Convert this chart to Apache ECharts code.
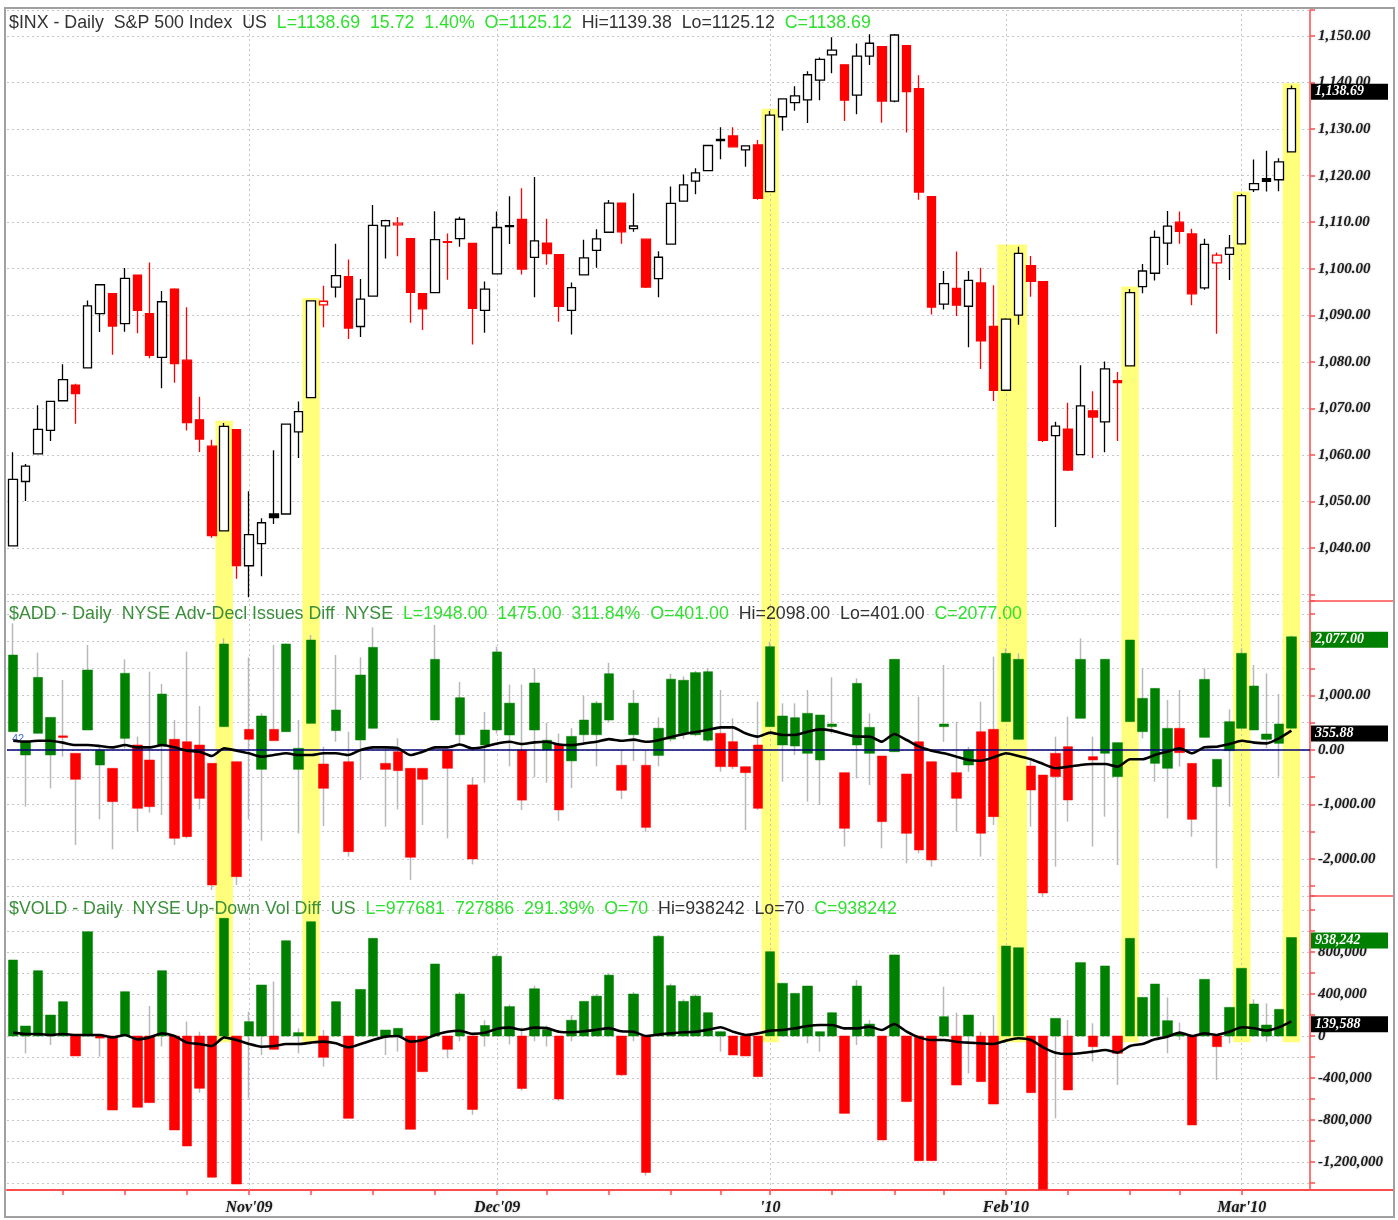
<!DOCTYPE html>
<html>
<head>
<meta charset="utf-8">
<title>$INX / $ADD / $VOLD daily</title>
<script src="https://cdn.jsdelivr.net/npm/echarts@6/dist/echarts.min.js"></script>
<style>
  html, body { margin: 0; padding: 0; background: #fff; }
  #chart { width: 1398px; height: 1220px; }
</style>
</head>
<body>
<div id="chart"></div>
<script>
// trading days shown on the chart
const dates = [
  '2009-10-06','2009-10-07','2009-10-08','2009-10-09','2009-10-12','2009-10-13','2009-10-14','2009-10-15','2009-10-16',
  '2009-10-19','2009-10-20','2009-10-21','2009-10-22','2009-10-23','2009-10-26','2009-10-27','2009-10-28','2009-10-29','2009-10-30',
  '2009-11-02','2009-11-03','2009-11-04','2009-11-05','2009-11-06','2009-11-09','2009-11-10','2009-11-11','2009-11-12','2009-11-13',
  '2009-11-16','2009-11-17','2009-11-18','2009-11-19','2009-11-20','2009-11-23','2009-11-24','2009-11-25','2009-11-27','2009-11-30',
  '2009-12-01','2009-12-02','2009-12-03','2009-12-04','2009-12-07','2009-12-08','2009-12-09','2009-12-10','2009-12-11',
  '2009-12-14','2009-12-15','2009-12-16','2009-12-17','2009-12-18','2009-12-21','2009-12-22','2009-12-23','2009-12-24',
  '2009-12-28','2009-12-29','2009-12-30','2009-12-31',
  '2010-01-04','2010-01-05','2010-01-06','2010-01-07','2010-01-08','2010-01-11','2010-01-12','2010-01-13','2010-01-14','2010-01-15',
  '2010-01-19','2010-01-20','2010-01-21','2010-01-22','2010-01-25','2010-01-26','2010-01-27','2010-01-28','2010-01-29',
  '2010-02-01','2010-02-02','2010-02-03','2010-02-04','2010-02-05','2010-02-08','2010-02-09','2010-02-10','2010-02-11','2010-02-12',
  '2010-02-16','2010-02-17','2010-02-18','2010-02-19','2010-02-22','2010-02-23','2010-02-24','2010-02-25','2010-02-26',
  '2010-03-01','2010-03-02','2010-03-03','2010-03-04','2010-03-05'
];

// S&P 500, [open, high, low, close]
const spx = [
  [1040.46,1060.55,1040.46,1054.72],[1054.28,1058.02,1050.10,1057.58],[1060.23,1070.67,1060.23,1065.48],[1065.28,1071.51,1063.00,1071.49],
  [1071.63,1079.46,1071.63,1076.19],[1074.96,1075.30,1066.71,1073.19],[1078.68,1093.17,1078.68,1092.02],[1090.36,1096.56,1086.41,1096.56],
  [1094.67,1094.67,1081.53,1087.68],[1088.22,1100.17,1086.48,1097.91],[1098.64,1098.64,1086.16,1091.06],[1090.36,1101.36,1080.77,1081.40],
  [1080.96,1095.21,1074.31,1092.91],[1095.62,1095.83,1075.49,1079.60],[1080.36,1091.75,1065.23,1066.95],[1067.54,1072.48,1060.62,1063.41],
  [1061.86,1063.26,1042.19,1042.63],[1043.69,1066.83,1043.69,1066.11],[1065.41,1065.41,1033.38,1036.19],[1036.18,1052.18,1029.38,1042.88],
  [1040.92,1046.36,1033.94,1045.41],[1047.30,1061.00,1045.15,1046.50],[1047.30,1066.65,1047.30,1066.63],[1064.95,1071.48,1059.32,1069.30],
  [1072.31,1093.19,1072.31,1093.08],[1092.22,1096.36,1087.40,1093.01],[1096.04,1105.37,1093.81,1098.51],[1098.31,1101.97,1084.90,1087.24],
  [1087.59,1097.79,1085.33,1093.48],[1094.13,1113.69,1094.13,1109.30],[1109.22,1110.52,1102.19,1110.32],[1109.44,1111.10,1102.70,1109.80],
  [1106.44,1106.44,1088.40,1094.90],[1094.66,1094.66,1086.81,1091.38],[1094.86,1112.38,1094.86,1106.24],[1105.83,1107.56,1097.63,1105.65],
  [1106.49,1111.18,1104.75,1110.63],[1105.47,1105.47,1083.74,1091.49],[1091.07,1097.24,1086.25,1095.63],[1098.89,1112.28,1098.89,1108.86],
  [1109.03,1115.58,1105.29,1109.24],[1110.59,1117.28,1098.74,1099.92],[1102.43,1119.73,1093.89,1105.98],[1105.52,1110.72,1100.83,1103.25],
  [1103.04,1103.04,1088.61,1091.94],[1091.07,1097.04,1085.89,1095.95],[1098.69,1106.25,1098.69,1102.35],[1103.96,1108.50,1100.19,1106.41],
  [1107.84,1114.76,1107.84,1114.11],[1114.11,1114.11,1105.35,1107.93],[1108.61,1116.21,1107.96,1109.18],[1106.36,1106.36,1095.88,1096.08],
  [1097.86,1103.74,1093.88,1102.47],[1105.31,1117.68,1105.31,1114.05],[1114.51,1120.27,1114.51,1118.02],[1118.84,1121.58,1116.00,1120.59],
  [1121.08,1126.48,1121.08,1126.48],[1127.53,1130.38,1123.51,1127.78],[1128.55,1130.38,1126.08,1126.20],[1125.53,1126.42,1121.94,1126.42],
  [1126.60,1127.64,1114.81,1115.10],[1116.56,1133.87,1116.56,1132.99],[1132.66,1136.63,1129.66,1136.52],[1135.71,1139.19,1133.95,1137.14],
  [1136.27,1142.46,1131.32,1141.69],[1140.52,1145.39,1136.22,1144.98],[1145.96,1149.74,1142.02,1146.98],[1143.81,1143.81,1131.77,1136.22],
  [1137.31,1148.40,1133.18,1145.68],[1145.68,1150.41,1143.80,1148.46],[1147.72,1147.77,1131.39,1136.03],[1136.03,1150.45,1135.77,1150.23],
  [1147.95,1147.95,1129.25,1138.04],[1138.68,1141.58,1114.84,1116.48],[1115.49,1115.49,1090.18,1091.76],[1092.40,1099.51,1091.26,1096.78],
  [1095.80,1103.69,1089.86,1092.17],[1091.94,1099.51,1083.11,1097.50],[1096.93,1100.22,1078.46,1084.53],[1087.61,1096.45,1071.59,1073.87],
  [1073.89,1089.38,1073.89,1089.19],[1090.05,1104.73,1087.96,1103.32],[1100.67,1102.72,1093.97,1097.28],[1097.25,1097.25,1062.78,1063.11],
  [1064.12,1067.13,1044.50,1066.19],[1065.51,1071.20,1056.51,1056.74],[1060.06,1079.28,1060.06,1070.52],[1069.47,1073.67,1059.34,1068.13],
  [1067.10,1080.04,1060.59,1078.47],[1075.95,1077.81,1062.97,1075.51],[1079.13,1095.67,1079.13,1094.87],[1096.14,1101.03,1094.72,1099.51],
  [1099.03,1108.24,1097.48,1106.75],[1105.49,1112.42,1100.80,1109.17],[1110.00,1112.29,1105.38,1108.01],[1107.49,1108.58,1092.18,1094.60],
  [1095.89,1106.42,1095.50,1105.24],[1101.24,1103.50,1086.02,1102.94],[1103.10,1107.24,1097.56,1104.49],[1105.36,1116.11,1105.36,1115.71],
  [1117.01,1123.46,1116.51,1118.31],[1119.36,1125.36,1116.58,1118.79],[1119.12,1123.73,1116.66,1122.97],[1125.12,1139.38,1125.12,1138.69]
];

// NYSE advance-decline issues, [open, high, low, close]
const add = [
  [336,2324,336,1743],[-92,153,-1040,153],[306,1786,306,1333],[-92,599,-703,599],[260,1284,-122,230],[-61,-61,-1743,-538],
  [367,1927,367,1468],[-275,61,-1272,0],[-336,-336,-1823,-948],[214,1664,31,1407],[92,245,-1498,-1070],[-183,1437,-1150,-1040],
  [73,1211,-1193,1027],[196,550,-1743,-1621],[153,1804,-1621,-1590],[92,807,-1089,-887],[-245,-245,-2569,-2477],[428,2049,428,1945],
  [-214,-214,-2477,-2324],[379,1700,-1272,196],[-355,673,-1664,624],[379,1927,171,171],[336,1957,336,1945],[-355,550,-1529,31],
  [489,2110,489,2018],[-257,61,-1394,-703],[355,1743,153,734],[-214,336,-1957,-1865],[183,1700,-550,1376],[398,2250,398,1884],
  [-245,61,-1407,-355],[-31,214,-1089,-379],[-336,-336,-2385,-1970],[-336,-336,-1376,-538],[550,2294,550,1664],[0,0,-1621,-336],
  [280,1250,100,960],[-640,-500,-2100,-2000],[92,700,-600,367],[367,1900,300,1800],[275,1200,-300,860],[0,1200,-1100,-920],
  [367,1500,-500,1230],[0,500,-600,180],[100,300,-1300,-1100],[-200,400,-700,250],[280,1000,100,550],[280,900,-300,860],
  [550,1600,500,1400],[-280,0,-900,-740],[280,1100,-200,860],[-280,0,-1500,-1420],[-100,600,-300,400],[200,1400,150,1300],
  [300,1350,200,1280],[280,1450,250,1420],
  [180,1500,150,1437],[306,1101,-398,-306],[153,581,-350,-306],[-306,-306,-1468,-416],[92,887,-1100,-1070],[428,1988,428,1896],
  [92,856,-581,624],[73,856,-92,593],[-61,1101,-948,673],[-183,642,-1009,642],[428,1333,300,477],[-416,-416,-1774,-1437],
  [92,1315,-520,1223],[-61,673,-642,416],[-110,-110,-1804,-1315],[-31,1664,-31,1664],[-440,-440,-2079,-1529],[153,978,-1896,-1835],
  [-214,-214,-2140,-2018],[428,1560,150,477],[-416,520,-1498,-887],[-275,61,-400,0],[336,887,-1957,-1529],[379,1712,-1376,-1223],
  [520,1865,520,1774],[196,1774,196,1664],[-294,-200,-1407,-734],[-459,-459,-2700,-2624],[-61,245,-2140,-489],[61,612,-1315,-917],
  [581,2049,581,1664],[-122,245,-1774,-183],[-61,1664,-1223,1664],[-489,135,-2110,135],[520,2018,520,2018],[336,1498,214,948],
  [-245,1131,-581,1131],[-336,917,-1254,398],[398,1101,-306,-49],[-245,-245,-1590,-1272],[232,1498,232,1297],[-673,-171,-2171,-171],
  [-12,746,-1040,520],[398,1865,398,1774],[367,1560,367,1174],[196,1407,31,294],[122,1027,-489,477],[401,2098,401,2077]
];

const addMA = [
  171,153,171,171,135,92,92,73,49,92,49,49,92,49,-12,-31,-110,31,-12,-61,-122,-92,-61,-92,-92,-61,-61,-92,0,49,49,31,-92,-31,49,49,
  100,30,60,120,150,110,140,150,100,90,120,150,200,170,190,150,180,240,290,330,
  370,416,416,306,245,318,275,275,336,379,355,294,245,245,153,294,183,61,-12,-61,-122,-183,-196,-135,-61,-110,-171,-257,-336,-306,
  -275,-257,-257,-306,-171,-171,-92,-31,31,-61,49,61,110,171,135,122,214,355.88
];

// NYSE up-down volume difference, [open, high, low, close]
const vold = [
  [0,724000,0,724000],[0,95000,-165000,95000],[0,622000,0,622000],[0,200000,-86000,200000],[0,327000,0,327000],[0,0,-190000,-190000],
  [0,994000,0,994000],[0,10000,-197000,-20000],[0,0,-705000,-705000],[0,422000,0,422000],[0,0,-679000,-679000],[0,286000,-635000,-635000],
  [0,622000,-100000,622000],[0,0,-895000,-895000],[0,137000,-1048000,-1048000],[0,41000,-540000,-498000],[0,0,-1346000,-1346000],
  [0,1121000,0,1121000],[0,0,-1410000,-1410000],[0,232000,-594000,137000],[0,486000,-181000,486000],[0,518000,-127000,-127000],
  [0,908000,0,908000],[0,73000,-165000,32000],[0,1089000,0,1089000],[0,57000,-292000,-203000],[0,327000,0,327000],[0,0,-784000,-784000],
  [0,444000,0,444000],[0,930000,0,930000],[0,57000,-181000,57000],[0,73000,-149000,73000],[0,0,-889000,-889000],[0,0,-340000,-340000],
  [0,686000,0,686000],[0,0,-213000,-127000],
  [0,420000,-50000,400000],[0,0,-750000,-700000],[0,150000,-100000,100000],[0,780000,0,760000],[0,300000,-80000,280000],
  [0,80000,-520000,-500000],[0,480000,-50000,450000],[0,100000,-100000,60000],[0,0,-620000,-600000],[0,200000,-50000,150000],
  [0,330000,0,330000],[0,400000,0,380000],[0,600000,0,580000],[0,0,-380000,-370000],[0,420000,-50000,400000],[0,0,-1330000,-1300000],
  [0,960000,0,950000],[0,500000,0,480000],[0,350000,0,330000],[0,400000,0,380000],
  [0,222000,0,222000],[0,41000,-149000,41000],[0,0,-181000,-181000],[0,0,-190000,-190000],[0,0,-387000,-387000],[0,803000,0,803000],
  [0,502000,0,502000],[0,406000,0,406000],[0,476000,-70000,476000],[0,41000,-149000,41000],[0,222000,0,222000],[0,0,-737000,-737000],
  [0,533000,-86000,476000],[0,152000,0,114000],[0,0,-990000,-990000],[0,772000,0,772000],[0,0,-625000,-625000],[0,0,-1187000,-1187000],
  [0,0,-1187000,-1187000],[0,470000,0,184000],[0,222000,-467000,-467000],[0,200000,-356000,200000],[0,41000,-435000,-435000],
  [0,200000,-648000,-648000],[0,857000,0,857000],[0,841000,0,841000],[0,0,-540000,-540000],[0,0,-1460000,-1460000],
  [0,168000,-784000,168000],[0,152000,-514000,-514000],[0,699000,0,699000],[0,121000,-244000,-102000],[0,667000,0,667000],
  [0,0,-467000,-165000],[0,930000,0,930000],[0,368000,0,368000],[0,495000,0,495000],[0,368000,-165000,146000],[0,127000,-38000,20000],
  [0,0,-848000,-848000],[0,540000,0,540000],[0,0,-419000,-102000],[0,273000,-70000,273000],[0,645000,0,645000],[0,349000,0,305000],
  [0,311000,-54000,105000],[0,254000,0,254000],[70,938242,70,938242]
];

const voldMA = [
  32000,19000,19000,10000,19000,10000,10000,10000,-13000,10000,-32000,-13000,25000,0,-63000,-76000,-95000,-13000,-38000,-76000,
  -102000,-95000,-76000,-76000,-63000,-54000,-70000,-108000,-76000,-38000,-6000,0,-54000,-38000,10000,41000,
  50000,20000,30000,70000,80000,60000,80000,75000,40000,35000,45000,60000,75000,45000,40000,0,15000,25000,35000,40000,
  60000,83000,41000,10000,25000,51000,57000,73000,95000,105000,105000,73000,73000,89000,57000,114000,41000,-13000,-38000,-38000,
  -54000,-63000,-70000,-76000,-44000,-22000,-38000,-108000,-159000,-171000,-165000,-149000,-133000,-159000,-95000,-76000,-32000,
  -6000,32000,0,25000,10000,41000,83000,73000,51000,83000,139588
];

// yellow highlight columns [first day, last day]
const highlights = [
  ['2009-10-29','2009-10-29'],['2009-11-09','2009-11-09'],['2010-01-04','2010-01-04'],['2010-02-01','2010-02-02'],
  ['2010-02-16','2010-02-16'],['2010-03-01','2010-03-01'],['2010-03-05','2010-03-05']
];

const cats = dates.concat(['']);
const monNames = ['Jan','Feb','Mar','Apr','May','Jun','Jul','Aug','Sep','Oct','Nov','Dec'];
const day = s => new Date(s + 'T00:00:00Z');

// month starts get labels; week starts get ticks (a month start replaces its week's tick)
const monthStarts = [];
const weekStarts = [];
for (let i = 1; i < dates.length; i++) {
  const a = day(dates[i - 1]), b = day(dates[i]);
  const newMonth = a.getUTCMonth() !== b.getUTCMonth();
  const newWeek = b.getUTCDay() < a.getUTCDay();
  if (newMonth) {
    monthStarts.push(i);
    if (!newWeek && weekStarts.length) weekStarts.pop();
    weekStarts.push(i);
  } else if (newWeek) {
    weekStarts.push(i);
  }
}

const fmt2 = v => v.toLocaleString('en-US', { minimumFractionDigits: 2, maximumFractionDigits: 2 });
const fmt0 = v => v.toLocaleString('en-US');

const RED = '#ff4b4b';
const GREEN = '#008000';
const CRED = '#ff0000';
const YELLOW = '#ffff7c';
const GRID_DOT = '#c4c4c4';
const axisFont = { fontFamily: 'Liberation Serif', fontStyle: 'italic', fontWeight: 'bold', fontSize: 15, color: '#1a1a1a',
  textShadowColor: 'rgba(0,0,0,0.35)', textShadowBlur: 2 };

// axis ranges matching the panel heights
const spxRange = [1028.6, 1155.6];
const addRange = [-2679, 2734];
const voldRange = [-1466700, 1333360];

const idx = d => dates.indexOf(d);

// candles: S&P hollow when up, red when close below previous close
const spxData = spx.map((r, i) => {
  const [o, h, l, c] = r;
  const prevC = i > 0 ? spx[i - 1][3] : o;
  const red = c < prevC;
  const edge = red ? CRED : '#000';
  const fill = c >= o ? '#fff' : edge;
  return { value: [o, c, l, h], itemStyle: { color: fill, color0: fill, borderColor: edge, borderColor0: edge } };
});

const wick = rows => rows.map(r => [r[0], r[3], r[2], r[1]]);
const body = rows => rows.map(r => [r[0], r[3], Math.min(r[0], r[3]), Math.max(r[0], r[3])]);

function bandData(topFn, bottom) {
  return highlights.map(h => {
    const s = idx(h[0]), e = idx(h[1]);
    return [s, e, topFn(s, e), bottom];
  });
}

const monthLines = monthStarts.map(i => ({ xAxis: i }));

function bandSeries(gi, data) {
  return {
    type: 'custom', xAxisIndex: gi, yAxisIndex: gi, z: 1, silent: true, clip: false,
    encode: { x: [0, 1], y: [2, 3] },
    data: data,
    renderItem: (params, api) => {
      const p0 = api.coord([api.value(0), api.value(2)]);
      const p1 = api.coord([api.value(1), api.value(3)]);
      const bw = api.size([1, 0])[0];
      return {
        type: 'rect',
        shape: { x: p0[0] - bw / 2 - 2.5, y: p0[1], width: p1[0] - p0[0] + bw + 5, height: p1[1] - p0[1] },
        style: { fill: YELLOW }
      };
    },
    // dotted month separators, under the bars
    markLine: {
      z: 2, silent: true, symbol: 'none', animation: false,
      label: { show: false },
      lineStyle: { type: [2, 3], color: GRID_DOT, width: 1 },
      data: monthLines
    }
  };
}

function valueBox(v, text, bg) {
  return {
    yAxis: v,
    lineStyle: { color: 'rgba(0,0,0,0)', width: 0 },
    label: {
      show: true, position: 'end', distance: 1, offset: [0, 3], formatter: text, opacity: 1,
      backgroundColor: bg, color: '#fff', width: 70, padding: [1, 3, 1, 4],
      fontFamily: 'Liberation Serif', fontStyle: 'italic', fontWeight: 'bold', fontSize: 14
    }
  };
}

function boxes(list) {
  return { z: 10, silent: true, symbol: 'none', animation: false, data: list };
}

function xAxis(gi, bottom) {
  return {
    type: 'category', gridIndex: gi, data: cats, boundaryGap: true,
    axisLine: { show: bottom, onZero: false, lineStyle: { color: RED, width: 2 } },
    axisTick: {
      show: bottom, alignWithLabel: true, length: 5, lineStyle: { color: RED, width: 1.5 },
      interval: i => weekStarts.includes(i)
    },
    axisLabel: {
      show: bottom, margin: 10, ...axisFont, fontSize: 16,
      interval: i => monthStarts.includes(i),
      formatter: val => {
        if (!val) return '';
        const p = val.split('-');
        const m = +p[1];
        const yy = p[0].slice(2);
        return m === 1 ? "'" + yy : monNames[m - 1] + "'" + yy;
      }
    },
    splitLine: { show: false }
  };
}

function yAxis(gi, range, splitNumber, labelFn) {
  return {
    type: 'value', gridIndex: gi, position: 'right', min: range[0], max: range[1], splitNumber: splitNumber,
    scale: true,
    axisLine: { show: true, lineStyle: { color: RED, width: 1.5 } },
    axisTick: { show: true, length: 5, lineStyle: { color: RED, width: 1.5 } },
    axisLabel: { ...axisFont, margin: 8, formatter: labelFn },
    splitLine: { show: true, lineStyle: { type: [2, 3], color: GRID_DOT, width: 1 } }
  };
}

const near = (v, step) => Math.abs(v - Math.round(v / step) * step) < 1e-6;

const chart = echarts.init(document.getElementById('chart'));

const headFont = '17.8px "Liberation Sans"';

function header(y, text, nameColor) {
  return {
    type: 'text', silent: true, z: 100, x: 9, y: y,
    style: {
      text: text, font: headFont, verticalAlign: 'middle',
      rich: { n: { fill: nameColor, font: headFont }, g: { fill: '#2fe02f', font: headFont }, k: { fill: '#333', font: headFont } }
    }
  };
}

const option = {
  animation: false,
  backgroundColor: '#fff',
  grid: [
    { left: 7, right: 88, top: 10, height: 591, outerBoundsMode: 'none' },
    { left: 7, right: 88, top: 601, height: 295, outerBoundsMode: 'none' },
    { left: 7, right: 88, top: 896, height: 294, outerBoundsMode: 'none' }
  ],
  xAxis: [xAxis(0, false), xAxis(1, false), xAxis(2, true)],
  yAxis: [
    yAxis(0, spxRange, 12, v => (near(v, 10) && v >= 1040 ? fmt2(v) : '')),
    yAxis(1, addRange, 10, v => (near(v, 1000) ? fmt2(v) : '')),
    yAxis(2, voldRange, 14, v => (near(v, 400000) && v < 1000000 ? fmt0(v) : ''))
  ],
  series: [
    bandSeries(0, bandData((s, e) => Math.max(...spx.slice(s, e + 1).map(r => r[1])) + 0.5, spxRange[0])),
    {
      name: '$INX', type: 'candlestick', xAxisIndex: 0, yAxisIndex: 0, z: 3, clip: false,
      barWidth: 9,
      itemStyle: { borderWidth: 1.3 },
      data: spxData,
      markLine: boxes([valueBox(1138.69, '1,138.69', '#000')])
    },
    bandSeries(1, bandData(() => addRange[1], addRange[0])),
    {
      name: '$ADD range', type: 'candlestick', xAxisIndex: 1, yAxisIndex: 1, z: 3, clip: false,
      barWidth: 1,
      itemStyle: { color: '#b8b8b8', color0: '#b8b8b8', borderColor: '#b8b8b8', borderColor0: '#b8b8b8', borderWidth: 1.5 },
      data: wick(add),
      markLine: {
        z: 5, silent: true, symbol: 'none', animation: false, label: { show: false },
        data: [{ yAxis: 0, lineStyle: { color: '#00007a', width: 1.5, type: 'solid' } }]
      }
    },
    {
      name: '$ADD', type: 'candlestick', xAxisIndex: 1, yAxisIndex: 1, z: 4, clip: false,
      barWidth: 10,
      itemStyle: { color: GREEN, color0: CRED, borderColor: GREEN, borderColor0: CRED, borderWidth: 0.5 },
      data: body(add),
      markLine: boxes([valueBox(2077, '2,077.00', '#008000'), valueBox(355.88, '355.88', '#000')])
    },
    {
      name: '$ADD MA', type: 'line', xAxisIndex: 1, yAxisIndex: 1, z: 6,
      data: addMA, showSymbol: false, smooth: 0.2,
      lineStyle: { color: '#000', width: 2.6 }
    },
    bandSeries(2, bandData(() => voldRange[1], -60000)),
    {
      name: '$VOLD range', type: 'candlestick', xAxisIndex: 2, yAxisIndex: 2, z: 3, clip: false,
      barWidth: 1,
      itemStyle: { color: '#b8b8b8', color0: '#b8b8b8', borderColor: '#b8b8b8', borderColor0: '#b8b8b8', borderWidth: 1.5 },
      data: wick(vold)
    },
    {
      name: '$VOLD', type: 'candlestick', xAxisIndex: 2, yAxisIndex: 2, z: 4, clip: false,
      barWidth: 10,
      itemStyle: { color: GREEN, color0: CRED, borderColor: GREEN, borderColor0: CRED, borderWidth: 0.5 },
      data: body(vold),
      markLine: boxes([valueBox(938242, '938,242', '#008000'), valueBox(139588, '139,588', '#000')])
    },
    {
      name: '$VOLD MA', type: 'line', xAxisIndex: 2, yAxisIndex: 2, z: 6,
      data: voldMA, showSymbol: false, smooth: 0.2,
      lineStyle: { color: '#000', width: 2.6 }
    }
  ],
  graphic: [
    { type: 'rect', silent: true, z: 100, shape: { x: 5, y: 8, width: 1389, height: 1209 },
      style: { fill: null, stroke: '#a0a0a0', lineWidth: 2 } },
    { type: 'line', silent: true, z: 100, shape: { x1: 1310, y1: 601, x2: 1393, y2: 601 }, style: { stroke: RED, lineWidth: 1.5 } },
    { type: 'line', silent: true, z: 100, shape: { x1: 1310, y1: 896, x2: 1393, y2: 896 }, style: { stroke: RED, lineWidth: 1.5 } },
    { type: 'line', silent: true, z: 100, shape: { x1: 1310, y1: 1190, x2: 1393, y2: 1190 }, style: { stroke: RED, lineWidth: 2 } },
    header(23, '{n|$INX - Daily  S&P 500 Index  US}  {g|L=1138.69  15.72  1.40%  O=1125.12}  {k|Hi=1139.38  Lo=1125.12}  {g|C=1138.69}', '#333'),
    header(614, '{n|$ADD - Daily  NYSE Adv-Decl Issues Diff  NYSE}  {g|L=1948.00  1475.00  311.84%  O=401.00}  {k|Hi=2098.00  Lo=401.00}  {g|C=2077.00}', '#3a8f3a'),
    header(909, '{n|$VOLD - Daily  NYSE Up-Down Vol Diff  US}  {g|L=977681  727886  291.39%  O=70}  {k|Hi=938242  Lo=70}  {g|C=938242}', '#3a8f3a'),
    {
      type: 'text', silent: true, z: 5, x: 12, y: 739,
      style: { text: '42', font: '11px "Liberation Sans"', fill: '#4a6ad0', verticalAlign: 'middle' }
    }
  ]
};

chart.setOption(option);
</script>
</body>
</html>
